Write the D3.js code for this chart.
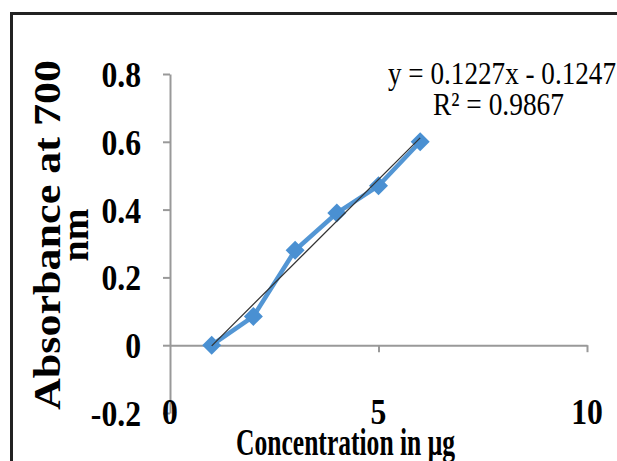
<!DOCTYPE html>
<html>
<head>
<meta charset="utf-8">
<script src="https://cdn.jsdelivr.net/npm/d3@7"></script>
<style>
  body { margin: 0; background: #fff; }
  svg { display: block; font-family: "Liberation Serif", "Times New Roman", serif; }
</style>
</head>
<body>
<div id="chart"></div>
<script>
// data
var concentration = [1, 2, 3, 4, 5, 6]
var absorbance = [0, 0.085, 0.28, 0.39, 0.47, 0.6]
var xTicks = [0, 5, 10]
var yTicks = [-0.2, 0, 0.2, 0.4, 0.6, 0.8]
var trendSlope = 0.1227
var trendIntercept = -0.1247
var trendLabel = 'y = 0.1227x - 0.1247'
var r2Label = 'R\u00b2 = 0.9867'

var width = 617
var height = 461

var svg = d3
  .select('#chart')
  .append('svg')
  .attr('width', width)
  .attr('height', height)

// outer frame
svg
  .append('rect')
  .attr('x', 11.5)
  .attr('y', 13.5)
  .attr('width', 640)
  .attr('height', 480)
  .attr('fill', 'none')
  .attr('stroke', '#222')
  .attr('stroke-width', 3)

var xScale = d3.scaleLinear().domain([0, 10]).range([170, 587])
var yScale = d3.scaleLinear().domain([-0.2, 0.8]).range([413, 74])

// y axis line and ticks
var yAxis = d3
  .axisLeft(yScale)
  .tickValues(yTicks)
  .tickSizeInner(7)
  .tickSizeOuter(0)
  .tickFormat('')
var gy = svg
  .append('g')
  .attr('transform', 'translate(' + xScale(0) + ',0)')
  .call(yAxis)
gy.select('.domain').attr('stroke', '#999').attr('stroke-width', 2)
gy.selectAll('.tick line').attr('stroke', '#999').attr('stroke-width', 2)

// x axis along y = 0
var xAxis = d3
  .axisBottom(xScale)
  .tickValues([5, 10])
  .tickSizeInner(7)
  .tickSizeOuter(0)
  .tickFormat('')
var gx = svg
  .append('g')
  .attr('transform', 'translate(0,' + yScale(0) + ')')
  .call(xAxis)
gx.select('.domain').attr('stroke', '#999').attr('stroke-width', 2)
gx.selectAll('.tick line').attr('stroke', '#999').attr('stroke-width', 2)

// y tick labels
svg
  .append('g')
  .selectAll('text')
  .data(yTicks)
  .enter()
  .append('text')
  .attr('x', 141)
  .attr('y', function(d) { return yScale(d) + 13 })
  .attr('text-anchor', 'end')
  .attr('font-size', 36)
  .attr('font-weight', 'bold')
  .attr('transform', 'translate(141,0) scale(0.88,1) translate(-141,0)')
  .text(function(d) { return d })

// x tick labels at bottom of plot
svg
  .append('g')
  .selectAll('text')
  .data(xTicks)
  .enter()
  .append('text')
  .attr('x', function(d) { return xScale(d) })
  .attr('y', 424)
  .attr('text-anchor', 'middle')
  .attr('font-size', 36)
  .attr('font-weight', 'bold')
  .attr('transform', function(d) { return 'translate(' + xScale(d) + ',0) scale(0.88,1) translate(' + -xScale(d) + ',0)' })
  .text(function(d) { return d })

var line = d3
  .line()
  .x(function(d) { return xScale(d[0]) })
  .y(function(d) { return yScale(d[1]) })

// series line
var points = concentration.map(function(x, i) { return [x, absorbance[i]] })
svg
  .append('path')
  .attr('d', line(points))
  .attr('fill', 'none')
  .attr('stroke', '#4a90d2')
  .attr('stroke-width', 4.5)
  .attr('opacity', 0.95)

// diamond markers
svg
  .append('g')
  .selectAll('path')
  .data(points)
  .enter()
  .append('path')
  .attr('d', d3.symbol().type(d3.symbolDiamond2).size(230))
  .attr('transform', function(d) { return 'translate(' + xScale(d[0]) + ',' + yScale(d[1]) + ')' })
  .attr('fill', '#4a90d2')

// linear trendline on top
var trend = d3.extent(concentration).map(function(x) {
  return [x, trendSlope * x + trendIntercept]
})
svg
  .append('path')
  .attr('d', line(trend))
  .attr('fill', 'none')
  .attr('stroke', '#333')
  .attr('stroke-width', 1.3)

// equation labels
svg
  .append('text')
  .attr('x', 388)
  .attr('y', 84)
  .attr('font-size', 32)
  .attr('textLength', 228)
  .attr('lengthAdjust', 'spacingAndGlyphs')
  .text(trendLabel)
svg
  .append('text')
  .attr('x', 433)
  .attr('y', 115)
  .attr('font-size', 32)
  .attr('textLength', 131)
  .attr('lengthAdjust', 'spacingAndGlyphs')
  .text(r2Label)

// x axis title
svg
  .append('text')
  .attr('x', 236)
  .attr('y', 455)
  .attr('font-size', 38)
  .attr('font-weight', 'bold')
  .attr('textLength', 219)
  .attr('lengthAdjust', 'spacingAndGlyphs')
  .text('Concentration in \u03bcg')

// y axis title, two lines
var yTitle = svg
  .append('text')
  .attr('transform', 'translate(60,235) rotate(-90)')
  .attr('font-size', 38)
  .attr('font-weight', 'bold')
  .attr('text-anchor', 'middle')
yTitle
  .append('tspan')
  .attr('x', 0)
  .attr('y', 0)
  .attr('textLength', 350)
  .attr('lengthAdjust', 'spacingAndGlyphs')
  .text('Absorbance at 700')
yTitle
  .append('tspan')
  .attr('x', 0)
  .attr('y', 28)
  .text('nm')
</script>
</body>
</html>
